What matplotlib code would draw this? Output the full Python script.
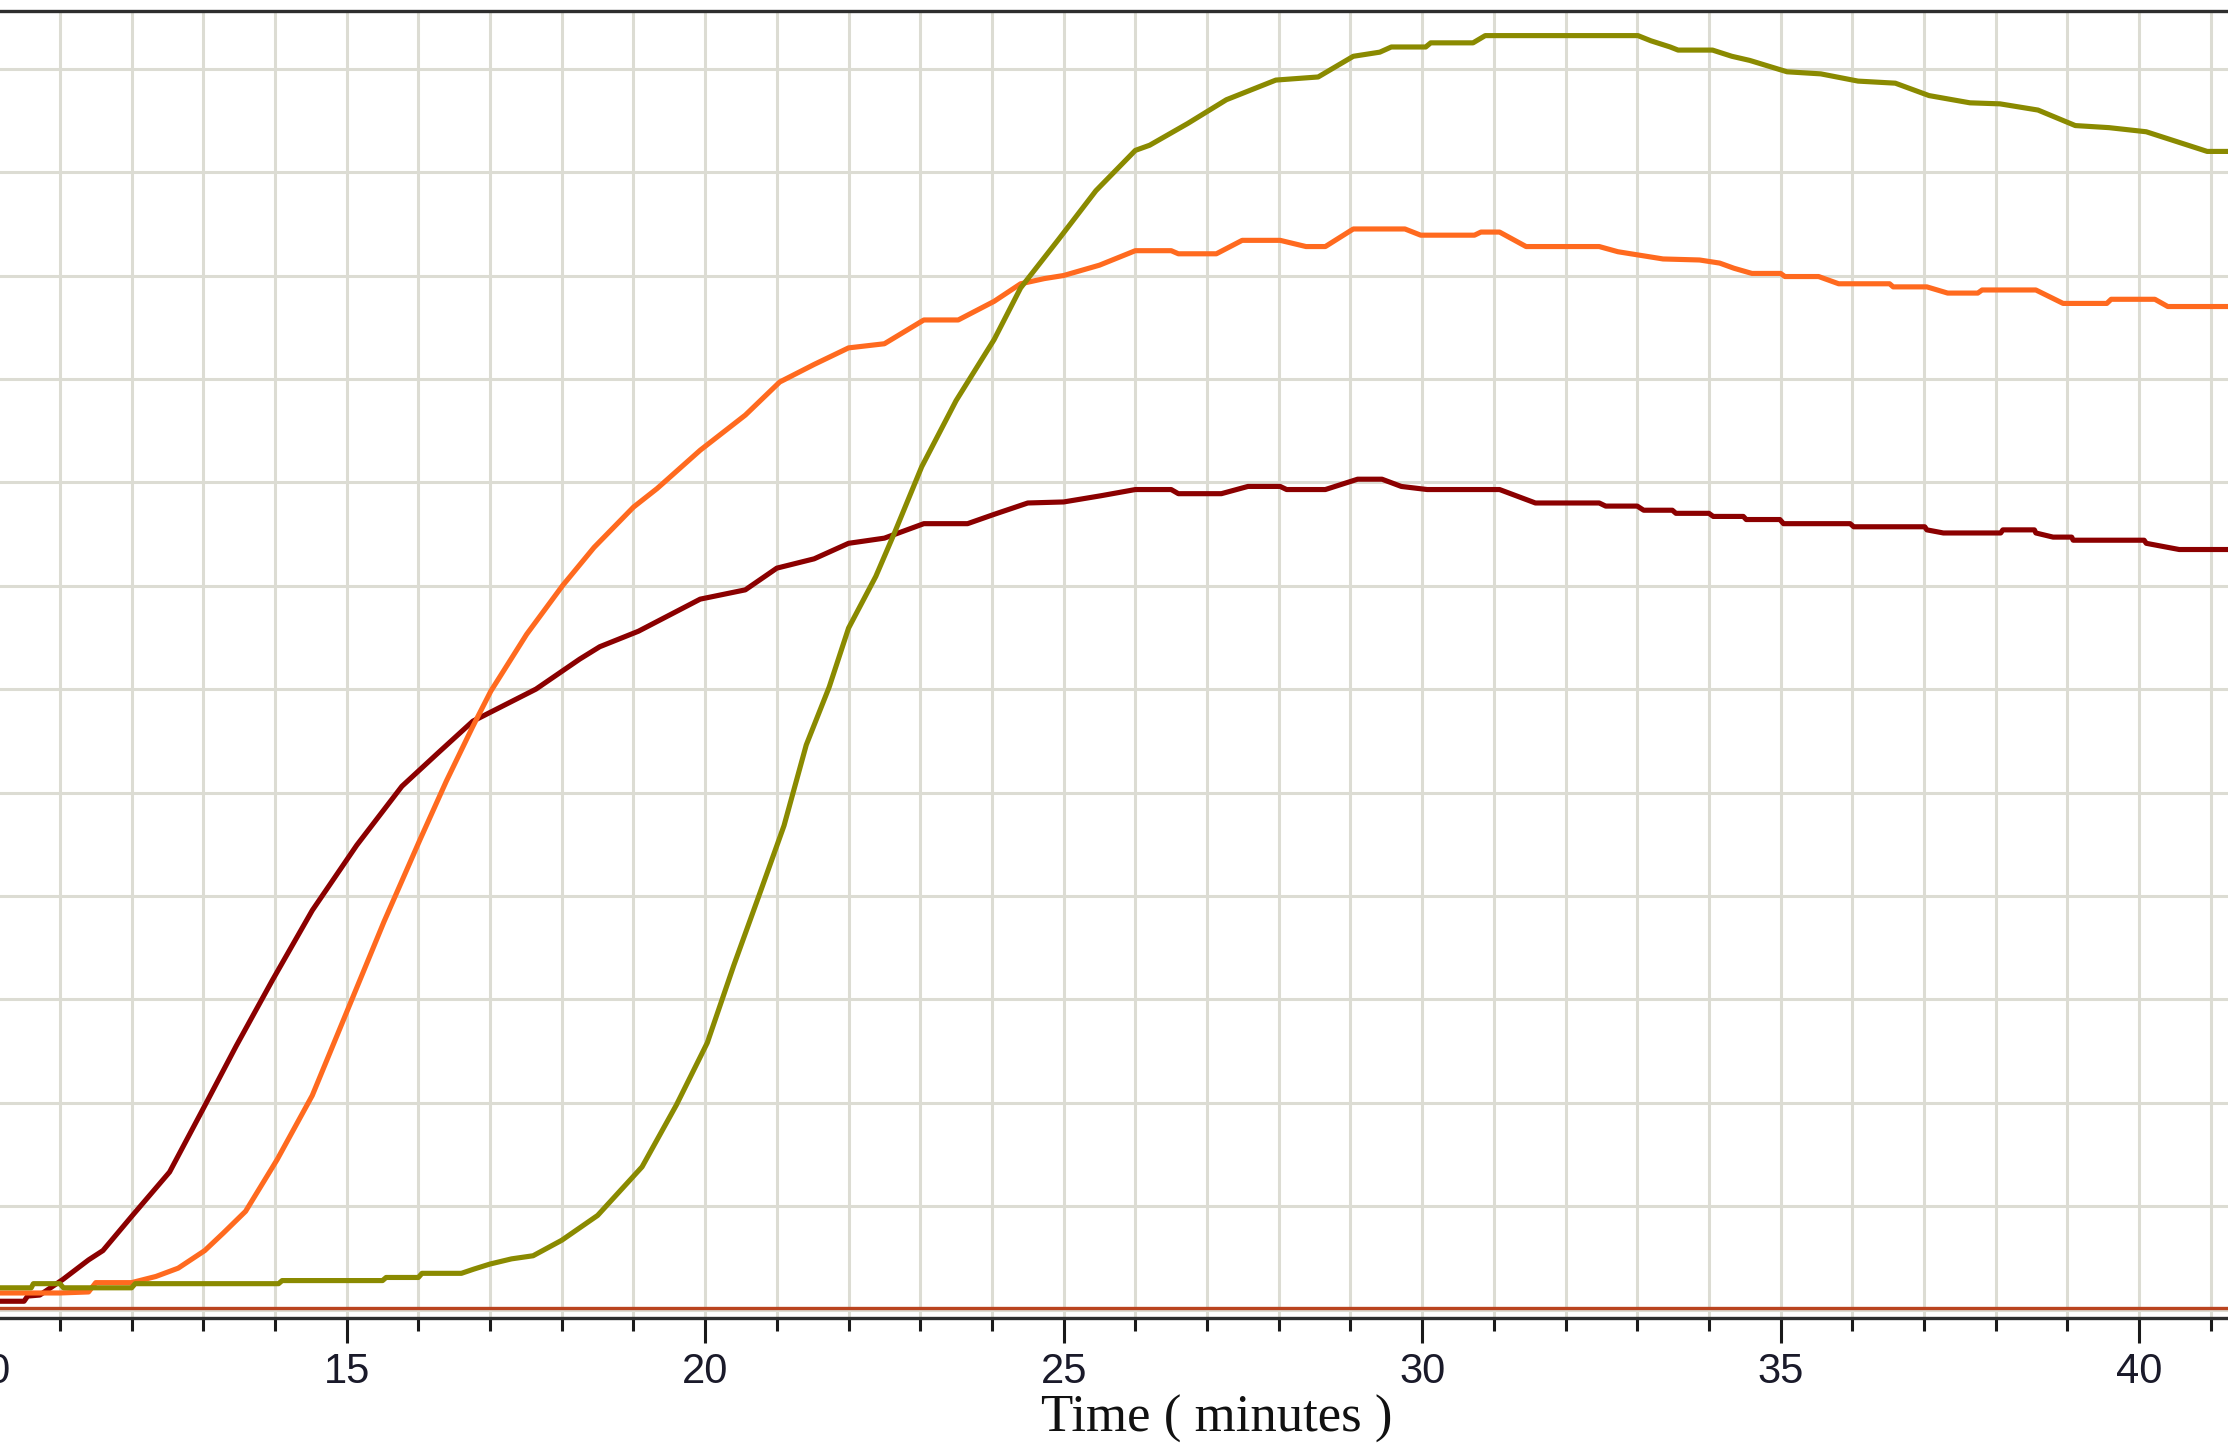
import matplotlib

matplotlib.use("Agg")
import matplotlib.pyplot as plt
from matplotlib.ticker import MultipleLocator

# amplification curves (time in minutes, signal in grid units)
maroon_time = [10.16, 10.5, 10.55, 10.72, 11.04, 11.4, 11.6, 12.0, 12.53, 13.02, 13.46, 13.96,
               14.52, 15.14, 15.77, 16.27, 16.76, 17.64, 18.25, 18.53, 19.07, 19.93, 20.56,
               21.0, 21.52, 22.0, 22.5, 23.05, 23.66, 24.03, 24.5, 25.0, 25.52, 26.0, 26.5,
               26.6, 27.2, 27.57, 28.02, 28.11, 28.65, 29.1, 29.44, 29.71, 30.07, 31.08,
               31.58, 32.47, 32.56, 33.0, 33.09, 33.49, 33.54, 34.0, 34.06, 34.48, 34.52,
               34.99, 35.04, 35.97, 36.02, 37.01, 37.04, 37.27, 38.07, 38.1, 38.54, 38.56,
               38.8, 39.06, 39.08, 40.07, 40.1, 40.33, 40.56, 41.24]
maroon_value = [0.08, 0.08, 0.13, 0.14, 0.29, 0.48, 0.57, 0.90, 1.33, 1.97, 2.55, 3.18,
                3.86, 4.49, 5.06, 5.38, 5.69, 6.00, 6.29, 6.41, 6.56, 6.87, 6.96,
                7.17, 7.26, 7.41, 7.46, 7.60, 7.60, 7.69, 7.80, 7.81, 7.87, 7.93, 7.93,
                7.89, 7.89, 7.96, 7.96, 7.93, 7.93, 8.03, 8.03, 7.96, 7.93, 7.93,
                7.80, 7.80, 7.77, 7.77, 7.73, 7.73, 7.70, 7.70, 7.67, 7.67, 7.64,
                7.64, 7.60, 7.60, 7.57, 7.57, 7.54, 7.51, 7.51, 7.54, 7.54, 7.51,
                7.47, 7.47, 7.44, 7.44, 7.41, 7.38, 7.35, 7.35]

orange_time = [10.16, 11.0, 11.4, 11.5, 12.0, 12.34, 12.65, 13.02, 13.28, 13.59, 14.03, 14.52,
               15.02, 15.52, 16.02, 16.39, 16.76, 17.01, 17.51, 18.01, 18.45, 19.0, 19.33,
               19.93, 20.56, 21.04, 21.52, 22.0, 22.5, 23.05, 23.53, 24.03, 24.4, 24.73,
               25.0, 25.5, 26.0, 26.5, 26.6, 27.13, 27.49, 28.02, 28.38, 28.65, 29.04,
               29.76, 29.98, 30.73, 30.82, 31.08, 31.45, 32.47, 32.73, 33.09, 33.36, 33.87,
               34.15, 34.35, 34.6, 35.0, 35.06, 35.53, 35.81, 36.52, 36.57, 37.04, 37.33,
               37.75, 37.81, 38.56, 38.94, 39.55, 39.61, 40.22, 40.4, 41.24]
orange_value = [0.16, 0.16, 0.17, 0.26, 0.26, 0.32, 0.40, 0.57, 0.74, 0.95, 1.45, 2.07,
                2.91, 3.75, 4.54, 5.11, 5.64, 5.98, 6.53, 7.00, 7.37, 7.76, 7.94,
                8.31, 8.65, 8.97, 9.14, 9.30, 9.34, 9.57, 9.57, 9.75, 9.92, 9.97,
                10.00, 10.10, 10.24, 10.24, 10.21, 10.21, 10.34, 10.34, 10.28, 10.28, 10.45,
                10.45, 10.39, 10.39, 10.42, 10.42, 10.28, 10.28, 10.23, 10.19, 10.16, 10.15,
                10.12, 10.07, 10.02, 10.02, 9.99, 9.99, 9.92, 9.92, 9.89, 9.89, 9.83,
                9.83, 9.86, 9.86, 9.73, 9.73, 9.77, 9.77, 9.70, 9.70]

olive_time = [10.16, 10.6, 10.63, 11.0, 11.05, 12.0, 12.05, 14.05, 14.1, 15.5, 15.55, 16.0,
              16.05, 16.6, 16.77, 17.0, 17.3, 17.6, 18.0, 18.5, 19.12, 19.6, 20.03, 20.4,
              20.77, 21.1, 21.41, 21.73, 22.0, 22.38, 22.64, 23.02, 23.5, 24.03, 24.4,
              24.93, 25.45, 26.0, 26.2, 26.73, 27.27, 27.96, 28.55, 29.04, 29.41, 29.57,
              30.05, 30.12, 30.71, 30.88, 33.01, 33.19, 33.46, 33.57, 34.05, 34.32, 34.57,
              35.09, 35.56, 36.08, 36.6, 37.07, 37.64, 38.06, 38.59, 39.11, 39.58, 40.1,
              40.95, 41.24]
olive_value = [0.21, 0.21, 0.25, 0.25, 0.21, 0.21, 0.25, 0.25, 0.28, 0.28, 0.31, 0.31,
               0.35, 0.35, 0.39, 0.44, 0.49, 0.52, 0.67, 0.91, 1.38, 1.98, 2.58, 3.33,
               4.04, 4.68, 5.46, 6.02, 6.59, 7.09, 7.51, 8.15, 8.79, 9.38, 9.88,
               10.35, 10.82, 11.21, 11.26, 11.47, 11.70, 11.89, 11.92, 12.12, 12.16, 12.21,
               12.21, 12.25, 12.25, 12.32, 12.32, 12.27, 12.21, 12.18, 12.18, 12.12, 12.08,
               11.97, 11.95, 11.88, 11.86, 11.74, 11.67, 11.66, 11.60, 11.45, 11.43, 11.39,
               11.20, 11.20]

# flat negative-control trace
ntc_time = [10.0, 41.24]
ntc_value = [0.01, 0.01]

x_major = [10, 15, 20, 25, 30, 35, 40]

GRID = "#dcdcd3"
AXIS = "#2e2e2e"

fig = plt.figure(figsize=(22.28, 14.47), dpi=100)
ax = fig.add_axes([-11.8 / 2228, 1 - 1318 / 1447, (2228 + 11.8) / 2228, 1307 / 1447])

ax.plot(ntc_time, ntc_value, color="#b9431f", linewidth=2.4, solid_capstyle="butt")
ax.plot(maroon_time, maroon_value, color="#8b0000", linewidth=3.7)
ax.plot(orange_time, orange_value, color="#ff6a1f", linewidth=3.7)
ax.plot(olive_time, olive_value, color="#8a8a00", linewidth=3.7)

ax.set_xlim(10, 41.24)
ax.set_ylim(-0.082, 12.558)

ax.set_xticks(x_major)
ax.set_xticklabels([str(v) for v in x_major])
ax.xaxis.set_minor_locator(MultipleLocator(1))
ax.set_yticks(range(0, 13))

ax.set_axisbelow(True)
ax.grid(True, which="both", axis="x", color=GRID, linewidth=2.2)
ax.grid(True, which="major", axis="y", color=GRID, linewidth=2.2)

for side in ["left", "right"]:
    ax.spines[side].set_visible(False)
for side in ["top", "bottom"]:
    ax.spines[side].set_color(AXIS)
    ax.spines[side].set_linewidth(2.4)

ax.tick_params(axis="y", which="both", length=0, labelleft=False)
ax.tick_params(axis="x", which="major", length=18, width=2.2, color="#1a1a1a",
               pad=6.5, labelsize=30, labelcolor="#1a1a2a")
ax.tick_params(axis="x", which="minor", length=9, width=2.2, color="#1a1a1a")
for lab in ax.get_xticklabels():
    lab.set_fontfamily(["Liberation Sans Narrow", "Liberation Sans"])

fig.text(1216.5 / 2228, 1 - 1419 / 1447, "Time ( minutes )", ha="center", va="center",
         fontsize=38, family="Liberation Serif", color="#111111")

fig.savefig("out.png", dpi=100, facecolor="white")
plt.close(fig)
